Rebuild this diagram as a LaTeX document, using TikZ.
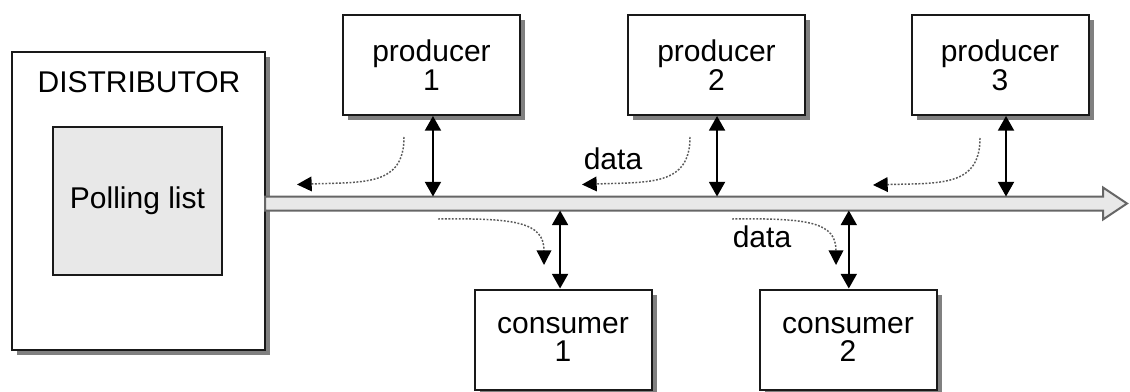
\documentclass[tikz,border=0pt]{standalone}
\usepackage{fontspec}
\setmainfont{Liberation Sans}
\usetikzlibrary{arrows.meta,shadows}

\begin{document}
\begin{tikzpicture}[x=0.75pt,y=-0.75pt,
  font=\fontsize{22.5}{21.5}\selectfont,
  shade box/.style={drop shadow={shadow xshift=4pt,shadow yshift=-4pt,fill=black!50,opacity=1}},
  unit/.style={draw=black!90,line width=1.5pt,fill=white,inner sep=0pt,align=center,
    minimum width=132.75pt,minimum height=75pt,shade box},
  dbl/.style={line width=1.5pt,{Triangle[length=11pt,width=12pt]}-{Triangle[length=11pt,width=12pt]}},
  flow/.style={black!65,line width=1.1pt,dash pattern=on 1.4pt off 1.2pt,
    -{Triangle[length=11pt,width=11pt,fill=black,color=black]}},
  lbl/.style={inner sep=0pt}]

\useasboundingbox (0,0) rectangle (1130,392);

% distributor with its polling list
\node[draw=black!90,line width=1.5pt,fill=white,minimum width=189.75pt,minimum height=223.5pt,
  inner sep=0pt,shade box] (dist) at (138.5,201) {};
\node[lbl] (disttitle) at (139,82) {DISTRIBUTOR};
\node[draw=black!90,line width=1.2pt,fill=black!9,minimum width=126.75pt,minimum height=111pt,
  inner sep=0pt] (poll) at (137.5,201) {Polling list};

% bus
\filldraw[draw=black!60,fill=black!9,line width=1.5pt,line join=miter]
  (265,196.5) -- (1103,196.5) -- (1103,187.5) -- (1127,203.5) -- (1103,219.5)
  -- (1103,210.5) -- (265,210.5) -- cycle;
\coordinate (busN) at (600,196.5);
\coordinate (busS) at (600,210.5);

% producers and consumers
\node[unit] (p1) at (431.5,65) {producer\\1};
\node[unit] (p2) at (716.5,65) {producer\\2};
\node[unit] (p3) at (1000,65) {producer\\3};
\node[unit] (c1) at (563,339.5) {consumer\\1};
\node[unit] (c2) at (848,339.5) {consumer\\2};

% attachment points
\coordinate (p1a) at ([xshift=1.1pt]p1.south);
\coordinate (p2a) at ([xshift=0.4pt]p2.south);
\coordinate (p3a) at ([xshift=4.5pt]p3.south);
\coordinate (c1a) at ([xshift=-2.2pt]c1.north);
\coordinate (c2a) at ([xshift=0.6pt]c2.north);

\draw[dbl] (p1a) -- (p1a |- busN);
\draw[dbl] (p2a) -- (p2a |- busN);
\draw[dbl] (p3a) -- (p3a |- busN);
\draw[dbl] (c1a) -- (c1a |- busS);
\draw[dbl] (c2a) -- (c2a |- busS);

% data flow on and off the bus
\coordinate (f1s) at (404,137);  \coordinate (f1e) at (297,184.5);
\coordinate (f2s) at (690,137);  \coordinate (f2e) at (582,184.5);
\coordinate (f3s) at (980,138);  \coordinate (f3e) at (873,185);
\coordinate (g1s) at (438,219);  \coordinate (g1e) at (544,265);
\coordinate (g2s) at (732,219);  \coordinate (g2e) at (836,265);

\draw[flow] (f1s) .. controls (404,186) and (365,182) .. (f1e);
\draw[flow] (f2s) .. controls (690,186) and (650,182) .. (f2e);
\draw[flow] (f3s) .. controls (980,187) and (940,183) .. (f3e);
\draw[flow] (g1s) .. controls (515,218) and (544,222) .. (g1e);
\draw[flow] (g2s) .. controls (808,218) and (836,222) .. (g2e);

\node[lbl] (d1) at (613,159) {data};
\node[lbl] (d2) at (762,237) {data};
\end{tikzpicture}
\end{document}
